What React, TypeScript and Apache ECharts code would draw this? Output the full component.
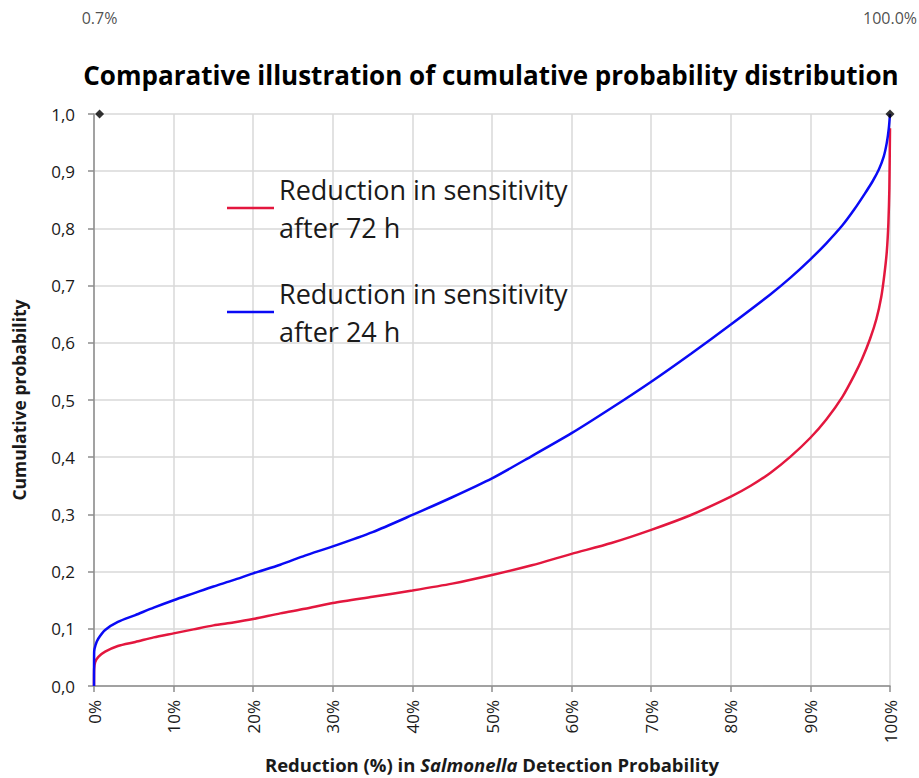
import React, { useEffect, useRef } from "react";
import * as echarts from "echarts";

// Reduction (%) in detection probability (x) vs cumulative probability (y)
const reduction72h = [0, 0.02, 0.15, 0.55, 1.4, 3, 5.2, 7.5, 10, 12.5, 15, 17.5, 20, 23.4, 26.5, 30, 35, 40, 45, 50, 55, 60, 65, 70, 75, 80, 82.5, 85, 87.5, 90, 92, 94, 95.5, 96.5, 97.5, 98.3, 98.9, 99.3, 99.6, 99.8, 99.92, 100];
const cumProb72h = [0, 0.03, 0.042, 0.051, 0.06, 0.07, 0.077, 0.085, 0.092, 0.099, 0.106, 0.111, 0.117, 0.127, 0.135, 0.145, 0.156, 0.167, 0.179, 0.194, 0.211, 0.231, 0.25, 0.273, 0.299, 0.331, 0.35, 0.373, 0.401, 0.434, 0.466, 0.505, 0.543, 0.572, 0.607, 0.642, 0.68, 0.72, 0.76, 0.81, 0.87, 0.975];

const reduction24h = [0, 0.02, 0.2, 0.55, 1.4, 3, 5.2, 7.5, 10, 12.5, 15, 17.5, 20, 23.4, 26.5, 30, 35, 40, 45, 50, 55, 60, 65, 70, 75, 80, 85, 87.5, 90, 92, 94, 95.5, 96.8, 97.8, 98.6, 99.2, 99.6, 99.85, 100];
const cumProb24h = [0, 0.06, 0.072, 0.083, 0.098, 0.112, 0.124, 0.137, 0.15, 0.162, 0.174, 0.185, 0.197, 0.212, 0.228, 0.244, 0.269, 0.299, 0.33, 0.363, 0.402, 0.442, 0.486, 0.532, 0.581, 0.632, 0.685, 0.714, 0.746, 0.774, 0.805, 0.833, 0.86, 0.882, 0.903, 0.925, 0.95, 0.975, 1.0];

const markerX = [0.7, 100];
const markerY = [1.0, 1.0];

const seriesNames = ["Reduction in sensitivity after 72 h", "Reduction in sensitivity after 24 h"];
const titleText = "Comparative illustration of cumulative probability distribution";
const yAxisTitle = "Cumulative probability";

const zip = (xs: number[], ys: number[]) => xs.map((x, i) => [x, ys[i]]);

const FONT = "'Open Sans', 'Noto Sans', sans-serif";
const TEXT = "#1a1a1a";

export default function App() {
  const ref = useRef<HTMLDivElement>(null);
  useEffect(() => {
    document.body.style.margin = "0";
    const chart = echarts.init(ref.current!, null, { renderer: "svg" });
    chart.setOption({
      animation: false,
      backgroundColor: "#ffffff",
      title: {
        text: titleText,
        left: 486,
        textAlign: "center",
        top: 57,
        textStyle: { fontFamily: FONT, fontSize: 26, fontWeight: "bold", color: "#000" },
      },
      legend: {
        orient: "vertical",
        left: 222,
        top: 146,
        itemWidth: 47,
        itemHeight: 2.5,
        itemGap: -10,
        icon: "rect",
        data: seriesNames,
        formatter: (name: string) => name.replace(" after", "\nafter"),
        textStyle: {
          fontFamily: FONT,
          fontSize: 27,
          lineHeight: 38,
          color: TEXT,
          padding: [38, 0, 0, 0],
        },
      },
      grid: { left: 94, right: 29, top: 114, bottom: 92, containLabel: false, outerBoundsMode: "none" },
      xAxis: {
        type: "value",
        min: 0,
        max: 100,
        interval: 10,
        name: "{b|Reduction (%) in }{i|Salmonella}{b| Detection Probability}",
        nameLocation: "middle",
        nameGap: 69,
        nameMoveOverlap: false,
        nameTextStyle: {
          rich: {
            b: { fontFamily: FONT, fontSize: 18.5, fontWeight: "bold", color: TEXT },
            i: { fontFamily: FONT, fontSize: 18.5, fontWeight: "bold", fontStyle: "italic", color: TEXT },
          },
        },
        axisLine: { show: true, lineStyle: { color: "#8c8c8c", width: 1.5 } },
        axisTick: { show: true, length: 6, lineStyle: { color: "#8c8c8c", width: 1.5 } },
        axisLabel: {
          rotate: 90,
          margin: 14,
          formatter: "{value}%",
          fontFamily: FONT,
          fontSize: 17,
          color: TEXT,
        },
        splitLine: { show: true, lineStyle: { color: "#d9d9d9", width: 1.5 } },
      },
      yAxis: {
        type: "value",
        min: 0,
        max: 1,
        interval: 0.1,
        name: yAxisTitle,
        nameLocation: "middle",
        nameGap: 66,
        nameMoveOverlap: false,
        nameTextStyle: { fontFamily: FONT, fontSize: 17.5, fontWeight: "bold", color: TEXT },
        axisLine: { show: true, lineStyle: { color: "#8c8c8c", width: 1.5 } },
        axisTick: { show: true, length: 6, lineStyle: { color: "#8c8c8c", width: 1.5 } },
        axisLabel: {
          margin: 19,
          formatter: (v: number) => v.toFixed(1).replace(".", ","),
          fontFamily: FONT,
          fontSize: 17,
          color: TEXT,
        },
        splitLine: { show: true, lineStyle: { color: "#d9d9d9", width: 1.5 } },
      },
      series: [
        {
          name: seriesNames[0],
          type: "line",
          data: zip(reduction72h, cumProb72h),
          symbol: "none",
          smooth: 0.25,
          color: "#E3173E",
          lineStyle: { width: 2.5, color: "#E3173E" },
        },
        {
          name: seriesNames[1],
          type: "line",
          data: zip(reduction24h, cumProb24h),
          symbol: "none",
          smooth: 0.25,
          color: "#0A0AF5",
          lineStyle: { width: 2.5, color: "#0A0AF5" },
        },
        {
          name: "markers",
          type: "scatter",
          data: zip(markerX, markerY),
          symbol: "diamond",
          symbolSize: 9,
          clip: false,
          itemStyle: { color: "#000" },
          label: {
            show: true,
            position: "top",
            distance: 84,
            formatter: (p: any) => p.value[0].toFixed(1) + "%",
            fontFamily: FONT,
            fontSize: 16,
            color: "#222",
          },
          z: 5,
        },
      ],
    });
    return () => chart.dispose();
  }, []);
  return <div ref={ref} style={{ width: 919, height: 778 }} />;
}
